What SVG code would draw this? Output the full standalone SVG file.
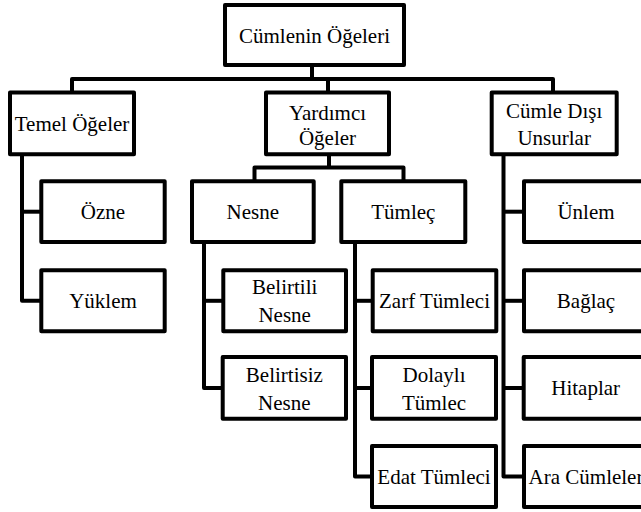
<svg xmlns="http://www.w3.org/2000/svg" width="641" height="512" viewBox="0 0 641 512">
<style>
.box rect{fill:#fff;stroke:#000;stroke-width:4;stroke-linejoin:round}
.box text{font-family:'Liberation Serif','DejaVu Serif',serif;font-size:21px;fill:#000;text-anchor:middle}
.conn path{fill:none;stroke:#000;stroke-width:4;stroke-linejoin:round}
</style>
<rect x="0" y="0" width="641" height="512" fill="#fff"/>
<g class="conn" id="connectors">
<path d="M312,64 V79"/>
<path d="M72,92.5 V79 H553 V92.5"/>
<path d="M328,79 V92.5"/>
<path d="M329,154 V167.5"/>
<path d="M254.5,181.3 V167.5 H403.5 V181.3"/>
<path d="M22,154 V300.8 H41.3"/>
<path d="M22,211.7 H41.3"/>
<path d="M204,242 V388 H222.7"/>
<path d="M204,300.8 H223.3"/>
<path d="M355,242 V476.5 H372"/>
<path d="M355,300.8 H372.7"/>
<path d="M355,388 H372"/>
<path d="M503.5,154 V476.5 H524"/>
<path d="M503.5,211.7 H524"/>
<path d="M503.5,300.8 H524"/>
<path d="M503.5,388 H524"/>
</g>
<g class="box" id="cumlenin-ogeleri"><rect x="225" y="5" width="179" height="60"/><text x="314.5" y="42.5">Cümlenin Öğeleri</text></g>
<g class="box" id="temel-ogeler"><rect x="10" y="92.5" width="124" height="61.8"/><text x="72" y="131">Temel Öğeler</text></g>
<g class="box" id="yardimci-ogeler"><rect x="266" y="92.5" width="123" height="61.8"/><text x="327.5" y="119.5">Yardımcı</text><text x="327.5" y="145">Öğeler</text></g>
<g class="box" id="cumle-disi"><rect x="491.7" y="92.5" width="125" height="61.8"/><text x="554.2" y="118">Cümle Dışı</text><text x="554.2" y="145">Unsurlar</text></g>
<g class="box" id="ozne"><rect x="41.3" y="181.3" width="123.4" height="60.7"/><text x="103" y="219">Özne</text></g>
<g class="box" id="nesne"><rect x="192" y="181.3" width="121.7" height="60.7"/><text x="252.85" y="219">Nesne</text></g>
<g class="box" id="tumlec"><rect x="341.3" y="181.3" width="124" height="60.7"/><text x="403.3" y="219">Tümleç</text></g>
<g class="box" id="unlem"><rect x="524" y="181.3" width="124" height="60.7"/><text x="586" y="219">Ünlem</text></g>
<g class="box" id="yuklem"><rect x="41.3" y="270.3" width="123.4" height="61"/><text x="103" y="308.3">Yüklem</text></g>
<g class="box" id="belirtili-nesne"><rect x="223.3" y="270.3" width="122.7" height="61"/><text x="284.65" y="294">Belirtili</text><text x="284.65" y="321.7">Nesne</text></g>
<g class="box" id="zarf-tumleci"><rect x="372.7" y="270.3" width="123.6" height="61"/><text x="434.5" y="308.3">Zarf Tümleci</text></g>
<g class="box" id="baglac"><rect x="524" y="270.3" width="124" height="61"/><text x="586" y="308.3">Bağlaç</text></g>
<g class="box" id="belirtisiz-nesne"><rect x="222.7" y="357" width="123.3" height="61.7"/><text x="284.35" y="381.5">Belirtisiz</text><text x="284.35" y="409.5">Nesne</text></g>
<g class="box" id="dolayli-tumlec"><rect x="372" y="357" width="124" height="61.7"/><text x="434" y="381.5">Dolaylı</text><text x="434" y="409.5">Tümlec</text></g>
<g class="box" id="hitaplar"><rect x="523.7" y="357" width="124" height="61.7"/><text x="585.7" y="395.3">Hitaplar</text></g>
<g class="box" id="edat-tumleci"><rect x="372" y="446" width="124" height="61"/><text x="434" y="484">Edat Tümleci</text></g>
<g class="box" id="ara-cumleler"><rect x="524" y="446" width="124" height="61"/><text x="586" y="484">Ara Cümleler</text></g>
</svg>
